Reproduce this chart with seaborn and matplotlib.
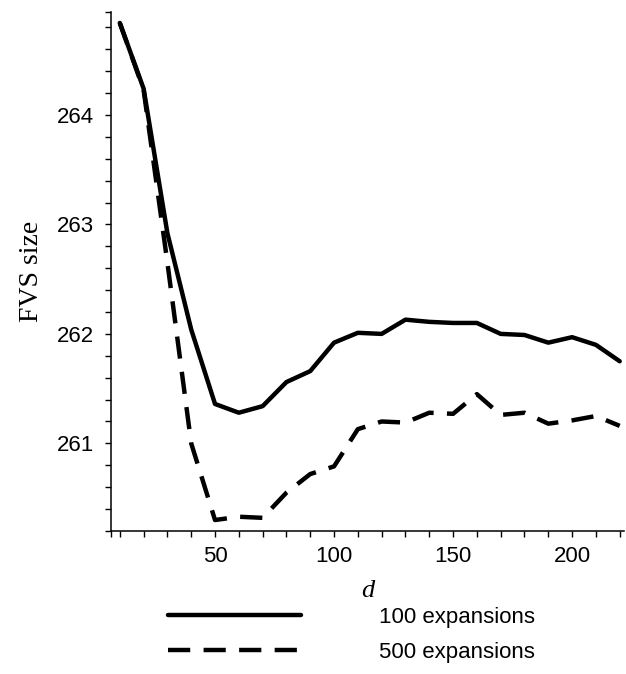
import numpy as np
import pandas as pd
import seaborn as sns
import matplotlib.pyplot as plt
from matplotlib.lines import Line2D

d_values = [10, 20, 30, 40, 50, 60, 70, 80, 90, 100, 110,
            120, 130, 140, 150, 160, 170, 180, 190, 200, 210, 220]
fvs_100 = [264.84, 264.24, 262.92, 262.04, 261.36, 261.28, 261.34, 261.56, 261.66, 261.92, 262.01,
           262.00, 262.13, 262.11, 262.10, 262.10, 262.00, 261.99, 261.92, 261.97, 261.90, 261.75]
fvs_500 = [264.84, 264.23, 262.65, 261.00, 260.30, 260.33, 260.32, 260.55, 260.72, 260.79, 261.13,
           261.20, 261.19, 261.28, 261.27, 261.45, 261.26, 261.28, 261.18, 261.21, 261.25, 261.16]
series_names = ['100 expansions', '500 expansions']

df = pd.DataFrame({
    'd': d_values * 2,
    'fvs': fvs_100 + fvs_500,
    'series': [series_names[0]] * len(d_values) + [series_names[1]] * len(d_values),
})

sns.set_style('ticks')
plt.rcParams['font.family'] = ['Liberation Sans', 'DejaVu Sans']
plt.rcParams['text.color'] = 'black'
plt.rcParams['xtick.labelcolor'] = 'black'
plt.rcParams['ytick.labelcolor'] = 'black'

fig = plt.figure(figsize=(6.26, 6.74), dpi=100)
ax = fig.add_axes([0.1773, 0.2122, 0.8195, 0.77])

sns.lineplot(data=df, x='d', y='fvs', hue='series', style='series',
             palette=['black', 'black'],
             dashes={series_names[0]: '', series_names[1]: (5.0, 3.0)},
             linewidth=3.2, legend=False, ax=ax)

xlo, xhi = 6.3, 221.8
ylo, yhi = 260.2, 264.94
ax.set_xlim(xlo, xhi)
ax.set_ylim(ylo, yhi)

ax.set_xticks([50, 100, 150, 200])
ax.set_xticks([xlo] + [v for v in range(10, 230, 10) if v % 50 != 0], minor=True)
ax.set_yticks([261, 262, 263, 264])
ax.set_yticks([ylo] + [round(v, 1) for v in np.arange(260.4, 264.95, 0.2) if abs(v - round(v)) > 1e-6] + [yhi], minor=True)

ax.tick_params(which='both', direction='out', length=4.5, width=1.0, color='black')
ax.tick_params(axis='x', pad=6, labelsize=16, labelcolor='black')
ax.tick_params(axis='y', pad=8, labelsize=16, labelcolor='black')

sns.despine(ax=ax)
for s in ['left', 'bottom']:
    ax.spines[s].set_linewidth(1.1)
    ax.spines[s].set_color('black')

ax.set_xlabel('d', family='Liberation Serif', style='italic', fontsize=19, labelpad=10, color='black')
ax.set_ylabel('FVS size', family='Liberation Serif', fontsize=20, labelpad=9, color='black')

handles = [Line2D([], [], color='black', lw=3.2, ls='-'),
           Line2D([], [], color='black', lw=3.2, ls=(0, (5.0, 3.0)))]
fig.legend(handles, series_names, loc='center', bbox_to_anchor=(0.561, 0.058),
           frameon=False, fontsize=16, handlelength=6, handletextpad=3.5,
           labelspacing=0.6)

fig.savefig('out.png', dpi=100)
